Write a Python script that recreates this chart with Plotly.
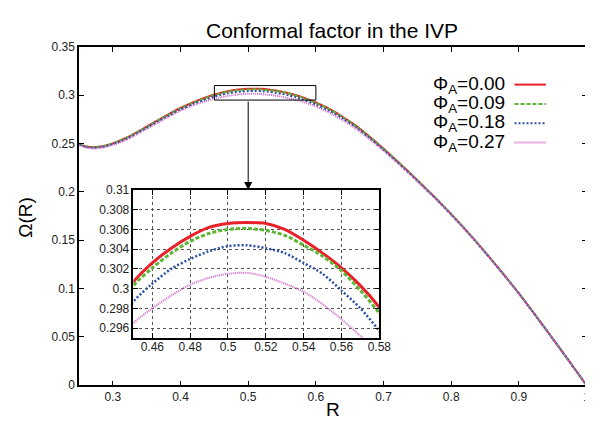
import plotly.graph_objects as go

# ---------------- data ----------------
R = [0.25, 0.26, 0.27, 0.28, 0.29, 0.30, 0.32, 0.35, 0.38, 0.40, 0.42, 0.45,
     0.46, 0.47, 0.48, 0.49, 0.50, 0.51, 0.52, 0.53, 0.54, 0.55, 0.56, 0.57,
     0.58, 0.60, 0.62, 0.64, 0.66, 0.68, 0.70, 0.72, 0.75, 0.78, 0.80, 0.83,
     0.86, 0.88, 0.90, 0.95, 1.00]

omega_000 = [0.2495, 0.2470, 0.2462, 0.2467, 0.2481, 0.2502, 0.2560, 0.2675, 0.2795, 0.2868, 0.2930, 0.3007,
             0.3026, 0.3041, 0.3053, 0.3062, 0.3066, 0.3067, 0.3066, 0.3060, 0.3049, 0.3036, 0.3021, 0.3003,
             0.2981, 0.2925, 0.2858, 0.2775, 0.2680, 0.2567, 0.2447, 0.2320, 0.2122, 0.1915, 0.1770, 0.1540,
             0.1295, 0.1125, 0.0950, 0.0482, 0.0000]
omega_009 = [0.2495, 0.2470, 0.2461, 0.2466, 0.2480, 0.2500, 0.2558, 0.2672, 0.2791, 0.2864, 0.2926, 0.3003,
             0.3021, 0.3036, 0.3048, 0.3056, 0.3060, 0.3061, 0.3059, 0.3054, 0.3044, 0.3033, 0.3018, 0.2998,
             0.2975, 0.2920, 0.2853, 0.2771, 0.2676, 0.2564, 0.2444, 0.2318, 0.2120, 0.1914, 0.1769, 0.1540,
             0.1295, 0.1125, 0.0950, 0.0482, 0.0000]
omega_018 = [0.2492, 0.2467, 0.2457, 0.2461, 0.2474, 0.2494, 0.2549, 0.2662, 0.2780, 0.2852, 0.2913, 0.2987,
             0.3005, 0.3020, 0.3030, 0.3038, 0.3043, 0.3044, 0.3041, 0.3036, 0.3026, 0.3015, 0.2998, 0.2980,
             0.2957, 0.2903, 0.2838, 0.2757, 0.2664, 0.2554, 0.2436, 0.2311, 0.2115, 0.1910, 0.1766, 0.1537,
             0.1293, 0.1124, 0.0949, 0.0482, 0.0000]
omega_027 = [0.2487, 0.2461, 0.2450, 0.2453, 0.2466, 0.2486, 0.2540, 0.2652, 0.2769, 0.2840, 0.2900, 0.2965,
             0.2980, 0.2993, 0.3004, 0.3011, 0.3015, 0.3016, 0.3012, 0.3005, 0.2997, 0.2984, 0.2969, 0.2952,
             0.2934, 0.2883, 0.2820, 0.2741, 0.2650, 0.2542, 0.2426, 0.2303, 0.2109, 0.1906, 0.1763, 0.1535,
             0.1292, 0.1123, 0.0948, 0.0481, 0.0000]

series_names = ["Φ<sub>A</sub>=0.00", "Φ<sub>A</sub>=0.09", "Φ<sub>A</sub>=0.18", "Φ<sub>A</sub>=0.27"]
series_values = [omega_000, omega_009, omega_018, omega_027]

main_xticks = [0.3, 0.4, 0.5, 0.6, 0.7, 0.8, 0.9, 1.0]
main_xtext = ["0.3", "0.4", "0.5", "0.6", "0.7", "0.8", "0.9", "1"]
main_yticks = [0, 0.05, 0.1, 0.15, 0.2, 0.25, 0.3, 0.35]
main_ytext = ["0", "0.05", "0.1", "0.15", "0.2", "0.25", "0.3", "0.35"]
inset_xticks = [0.46, 0.48, 0.50, 0.52, 0.54, 0.56, 0.58]
inset_xtext = ["0.46", "0.48", "0.5", "0.52", "0.54", "0.56", "0.58"]
inset_yticks = [0.296, 0.298, 0.300, 0.302, 0.304, 0.306, 0.308, 0.310]
inset_ytext = ["0.296", "0.298", "0.3", "0.302", "0.304", "0.306", "0.308", "0.31"]

# zoom box on the main plot and inset ranges
ZOOM_X = [0.45, 0.60]
ZOOM_Y = [0.295, 0.31]
INSET_X = [0.45, 0.58]
INSET_Y = [0.295, 0.31]

# ---------------- styles ----------------
W, H = 593, 421
FONT = "Liberation Sans, Arial, sans-serif"
colors = ["#e8202a", "#5cb534", "#2a4ea6", "#cf66c8"]
dashes_main = ["solid", "4px,2px", "2px,2px", "1px,1px"]
widths_main = [2, 2, 2, 2]
widths_inset = [3, 3, 2.5, 2]


def px_x(p):
    return p / W


def px_y(p):
    return 1 - p / H


fig = go.Figure()

for name, vals, c, d, w in zip(series_names, series_values, colors, dashes_main, widths_main):
    fig.add_trace(go.Scatter(x=R, y=vals, mode="lines", name=name,
                             line=dict(color=c, dash=d, width=w, shape="spline", smoothing=0.8),
                             xaxis="x", yaxis="y", showlegend=False))

for name, vals, c, d, w in zip(series_names, series_values, colors, dashes_main, widths_inset):
    fig.add_trace(go.Scatter(x=R, y=vals, mode="lines", name=name,
                             line=dict(color=c, dash=d, width=w, shape="spline", smoothing=0.8),
                             xaxis="x2", yaxis="y2", showlegend=False))

axis_common = dict(showline=True, linecolor="black", linewidth=1.5, mirror="ticks",
                   ticks="inside", ticklen=5, tickwidth=1, tickcolor="black",
                   zeroline=False, tickfont=dict(family=FONT, size=12, color="#222"))

fig.update_layout(
    width=W, height=H,
    margin=dict(l=0, r=0, t=0, b=0),
    paper_bgcolor="white", plot_bgcolor="white",
    font=dict(family=FONT, color="black"),
    xaxis=dict(domain=[px_x(72.5), px_x(590.5)], range=[0.25, 1.0], anchor="y",
               tickvals=main_xticks, ticktext=main_xtext, showgrid=False, **axis_common),
    yaxis=dict(domain=[px_y(383), px_y(33)], range=[0, 0.35], anchor="x",
               tickvals=main_yticks, ticktext=main_ytext, showgrid=False, **axis_common),
    xaxis2=dict(domain=[px_x(128), px_x(379)], range=INSET_X, anchor="y2",
                tickvals=inset_xticks, ticktext=inset_xtext, showgrid=True, ticklabelstandoff=-3,
                gridcolor="#555", griddash="dot", gridwidth=1, **axis_common),
    yaxis2=dict(domain=[px_y(334), px_y(181)], range=INSET_Y, anchor="x2",
                tickvals=inset_yticks, ticktext=inset_ytext, showgrid=True,
                gridcolor="#555", griddash="dot", gridwidth=1, **axis_common),
)

# title
fig.add_annotation(text="Conformal factor in the IVP", x=px_x(331), y=px_y(16),
                   xref="paper", yref="paper", showarrow=False,
                   xanchor="center", yanchor="middle",
                   font=dict(family=FONT, size=21, color="black"))

# zoom rectangle and arrow
fig.add_shape(type="rect", xref="x", yref="y", x0=ZOOM_X[0], x1=ZOOM_X[1],
              y0=ZOOM_Y[0], y1=ZOOM_Y[1], line=dict(color="black", width=1))
fig.add_annotation(x=0.5, y=0.202, xref="x", yref="y", ax=0.5, ay=ZOOM_Y[0],
                   axref="x", ayref="y", text="", showarrow=True, arrowhead=2,
                   arrowsize=1.6, arrowwidth=1, arrowcolor="black")

# axis titles
fig.add_annotation(text="R", x=px_x(331.5), y=px_y(408), xref="paper", yref="paper",
                   showarrow=False, font=dict(family=FONT, size=19, color="black"),
                   xanchor="center", yanchor="middle")
fig.add_annotation(text="Ω(R)", x=px_x(17), y=px_y(209), xref="paper", yref="paper",
                   showarrow=False, textangle=-90, font=dict(family=FONT, size=19, color="black"),
                   xanchor="center", yanchor="middle")

# key (text left, line sample right, as in the reference)
row_y = [72, 92, 112, 132]
for name, c, d, yy in zip(series_names, colors, dashes_main, row_y):
    fig.add_annotation(text=name, x=px_x(509), y=px_y(yy), xref="paper", yref="paper",
                       showarrow=False, xanchor="right", yanchor="middle",
                       font=dict(family=FONT, size=19, color="black"))
    fig.add_shape(type="line", xref="paper", yref="paper", x0=px_x(517), x1=px_x(549),
                  y0=px_y(yy), y1=px_y(yy), line=dict(color=c, dash=d, width=2))

fig.write_html("out.html")
